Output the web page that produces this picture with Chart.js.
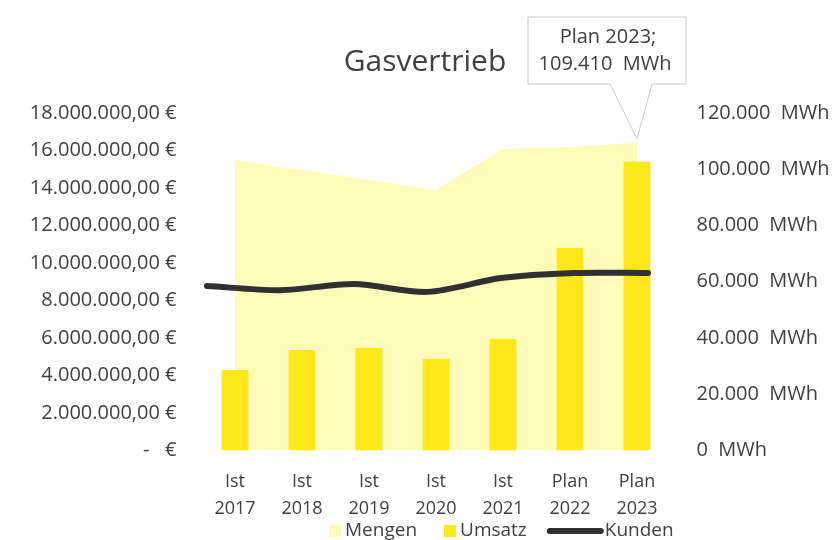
<!DOCTYPE html>
<html lang="de">
<head>
<meta charset="utf-8">
<title>Gasvertrieb</title>
<script src="https://cdn.jsdelivr.net/npm/chart.js@4.4.1/dist/chart.umd.min.js"></script>
<style>
  html, body { margin: 0; padding: 0; background: #fff; }
  #wrap { width: 835px; height: 540px; }
</style>
</head>
<body>
<div id="wrap"><canvas id="gas" width="835" height="540"></canvas></div>
<script>
// Kategorien
var categories = ['Ist 2017', 'Ist 2018', 'Ist 2019', 'Ist 2020', 'Ist 2021', 'Plan 2022', 'Plan 2023'];
// Umsatz in EUR (linke Achse)
var umsatz = [4290000, 5360000, 5470000, 4880000, 5950000, 10800000, 15400000];
// Mengen in MWh (rechte Achse)
var mengen = [103300, 99700, 96200, 92600, 107200, 107900, 109410];
// Kunden (auf der MWh-Achse)
var kunden = [58500, 57000, 59200, 56400, 61300, 63100, 63100];
// Achsenticks
var euroTicks = [0, 2000000, 4000000, 6000000, 8000000, 10000000, 12000000, 14000000, 16000000, 18000000];
var mwhTicks = [0, 20000, 40000, 60000, 80000, 100000, 120000];

var textColor = '#404040';
var fontFamily = '"Open Sans", sans-serif';

function tausender(n) {
  return String(Math.round(n)).replace(/\B(?=(\d{3})+(?!\d))/g, '.');
}
function euro(v) {
  return v === 0 ? '-   €' : tausender(v) + ',00 €';
}
function mwh(v) {
  return tausender(v) + '  MWh';
}

// Titel, Datenbeschriftung und Legende
var beschriftung = {
  id: 'beschriftung',
  afterDraw: function (chart) {
    var ctx = chart.ctx;
    ctx.save();
    ctx.fillStyle = textColor;
    ctx.textAlign = 'center';
    ctx.textBaseline = 'middle';
    ctx.font = '30px ' + fontFamily;
    ctx.fillText('Gasvertrieb', 425, 62);

    // Callout am letzten Mengenpunkt
    var last = mengen.length - 1;
    var pt = chart.getDatasetMeta(0).data[last];
    var tx = pt.x, ty = pt.y - 4;
    var l = tx - 109, r = tx + 49, t = 17, b = 84;
    ctx.beginPath();
    ctx.moveTo(l, t);
    ctx.lineTo(r, t);
    ctx.lineTo(r, b);
    ctx.lineTo(tx + 15, b);
    ctx.lineTo(tx, ty);
    ctx.lineTo(tx - 27, b);
    ctx.lineTo(l, b);
    ctx.closePath();
    ctx.fillStyle = '#fff';
    ctx.fill();
    ctx.strokeStyle = '#c8c8c8';
    ctx.lineWidth = 1;
    ctx.stroke();
    ctx.fillStyle = textColor;
    ctx.font = '20px ' + fontFamily;
    ctx.fillText(categories[last] + ';', (l + r) / 2 + 1, 37);
    ctx.fillText(mwh(mengen[last]), (l + r) / 2 - 2, 64);

    // Legende
    ctx.font = '19px ' + fontFamily;
    ctx.textAlign = 'left';
    var x = 329, y = 531;
    chart.data.datasets.forEach(function (ds) {
      if (ds.type === 'line' && !ds.fill) {
        ctx.strokeStyle = ds.borderColor;
        ctx.lineWidth = 6;
        ctx.lineCap = 'round';
        ctx.beginPath();
        ctx.moveTo(x - 4, y);
        ctx.lineTo(x + 47, y);
        ctx.stroke();
        x += 51;
      } else {
        ctx.fillStyle = ds.backgroundColor;
        ctx.fillRect(x, y - 6, 12, 12);
        x += 16;
      }
      ctx.fillStyle = textColor;
      ctx.fillText(ds.label, x, y);
      x += ctx.measureText(ds.label).width + 27;
    });
    ctx.restore();
  }
};

new Chart(document.getElementById('gas'), {
  type: 'bar',
  data: {
    labels: categories,
    datasets: [{
      type: 'line',
      label: 'Mengen',
      data: mengen,
      yAxisID: 'y1',
      fill: 'origin',
      backgroundColor: '#FFFBB8',
      borderWidth: 0,
      pointRadius: 0,
      tension: 0,
      order: 3
    }, {
      label: 'Umsatz',
      data: umsatz,
      yAxisID: 'y',
      backgroundColor: '#FFE81A',
      grouped: false,
      categoryPercentage: 0.8,
      barPercentage: 0.5,
      order: 2
    }, {
      type: 'line',
      label: 'Kunden',
      data: kunden.map(function (v, i) { return { x: i, y: v }; }),
      xAxisID: 'xk',
      yAxisID: 'y1',
      fill: false,
      borderColor: '#303030',
      borderWidth: 6,
      borderCapStyle: 'round',
      borderJoinStyle: 'round',
      pointRadius: 0,
      tension: 0.3,
      order: 1
    }]
  },
  options: {
    responsive: false,
    animation: false,
    layout: { padding: { top: 113, left: 0, right: 0, bottom: 0 } },
    plugins: {
      legend: { display: false },
      title: { display: false },
      tooltip: { enabled: false }
    },
    scales: {
      x: {
        type: 'category',
        offset: true,
        grid: { display: false, drawTicks: false },
        border: { display: false },
        ticks: {
          color: textColor,
          font: { family: fontFamily, size: 18, lineHeight: 1.5 },
          padding: 18,
          maxRotation: 0,
          autoSkip: false,
          callback: function (v, i) { return categories[i].split(' '); }
        },
        afterFit: function (s) { s.height = 89.5; }
      },
      xk: {
        type: 'linear',
        display: false,
        offset: false,
        grid: { offset: false },
        min: -0.075,
        max: 6.306
      },
      y: {
        position: 'left',
        min: 0,
        max: 18000000,
        grid: { display: false, drawTicks: false },
        border: { display: false },
        afterBuildTicks: function (s) { s.ticks = euroTicks.map(function (v) { return { value: v }; }); },
        ticks: {
          color: textColor,
          font: { family: fontFamily, size: 20 },
          padding: 25,
          callback: function (v) { return euro(v); }
        },
        afterFit: function (s) { s.width = 201.5; }
      },
      y1: {
        position: 'right',
        min: 0,
        max: 120000,
        grid: { display: false, drawTicks: false },
        border: { display: false },
        afterBuildTicks: function (s) { s.ticks = mwhTicks.map(function (v) { return { value: v }; }); },
        ticks: {
          color: textColor,
          font: { family: fontFamily, size: 20 },
          padding: 26,
          callback: function (v) { return mwh(v); }
        },
        afterFit: function (s) { s.width = 164.5; }
      }
    }
  },
  plugins: [beschriftung]
});
</script>
</body>
</html>
